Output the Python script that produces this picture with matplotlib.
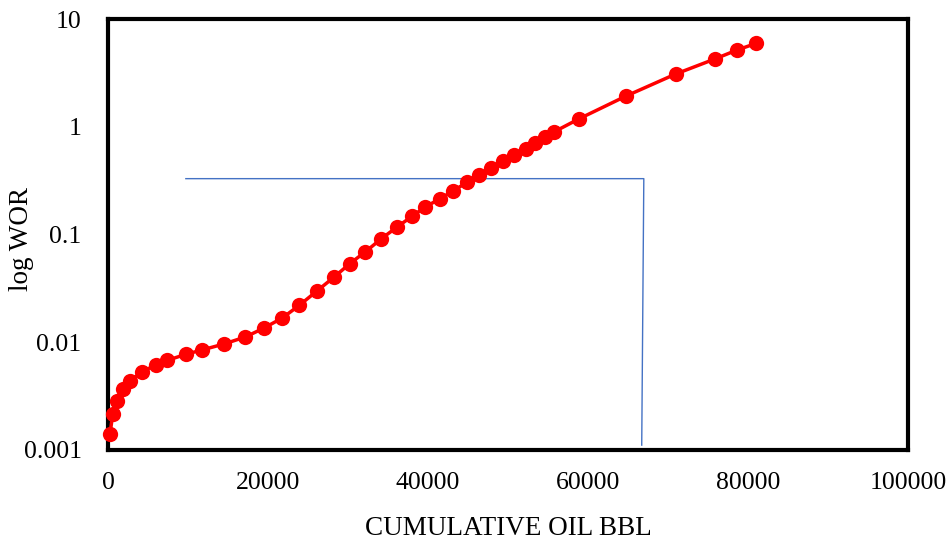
import matplotlib
matplotlib.use("Agg")
import matplotlib.pyplot as plt
from matplotlib.ticker import FixedLocator, FixedFormatter, NullLocator

plt.rcParams["font.family"] = ["Liberation Serif", "DejaVu Serif"]

# cumulative oil (bbl) vs water-oil ratio
cum_oil = [250, 590, 1160, 1830, 2740, 4280, 5950, 7400, 9730, 11720,
           14500, 17170, 19450, 21780, 23900, 26060, 28220, 30210, 32170,
           34160, 36080, 37990, 39650, 41480, 43100, 44850, 46340, 47880,
           49380, 50790, 52210, 53370, 54580, 55700, 58810, 64750, 70950,
           75810, 78590, 81010]
wor = [0.00141, 0.00214, 0.00287, 0.00366, 0.00440, 0.00533, 0.00615,
       0.00679, 0.00773, 0.00847, 0.00964, 0.0112, 0.0135, 0.0168, 0.0220,
       0.0297, 0.0401, 0.0536, 0.0692, 0.0914, 0.1167, 0.1476, 0.180,
       0.215, 0.253, 0.305, 0.354, 0.411, 0.478, 0.551, 0.626, 0.711,
       0.809, 0.893, 1.18, 1.93, 3.09, 4.25, 5.15, 5.95]

# blue guide line (horizontal then down)
guide_x = [9730, 66960, 66700]
guide_y = [0.330, 0.330, 0.00111]

y_ticks = [0.001, 0.01, 0.1, 1, 10]
y_labels = ["0.001", "0.01", "0.1", "1", "10"]
x_ticks = [0, 20000, 40000, 60000, 80000, 100000]

fig = plt.figure(figsize=(9.49, 5.44), dpi=100)
ax = fig.add_axes([0.1138, 0.1728, 0.8432, 0.7922])

ax.plot(guide_x, guide_y, color="#4472C4", lw=1.0)
ax.plot(cum_oil, wor, color="#FF0000", lw=2.5, marker="o", markersize=11,
        markeredgewidth=0, clip_on=False, zorder=3)

ax.set_yscale("log")
ax.set_ylim(0.001, 10)
ax.set_xlim(0, 100000)
ax.yaxis.set_major_locator(FixedLocator(y_ticks))
ax.yaxis.set_major_formatter(FixedFormatter(y_labels))
ax.yaxis.set_minor_locator(NullLocator())
ax.set_xticks(x_ticks)
ax.set_xticklabels([str(v) for v in x_ticks])
ax.tick_params(axis="x", length=0, labelsize=18.5, pad=16)
ax.tick_params(axis="y", length=0, labelsize=18.5, pad=19)

for s in ax.spines.values():
    s.set_linewidth(3)
    s.set_color("black")

ax.set_xlabel("CUMULATIVE OIL BBL", fontsize=19.5, va="center")
ax.set_ylabel("log WOR", fontsize=19.5, va="center")
ax.xaxis.set_label_coords(0.5, -0.183)
ax.yaxis.set_label_coords(-0.1075, 0.49)

fig.savefig("out.png", dpi=100)
